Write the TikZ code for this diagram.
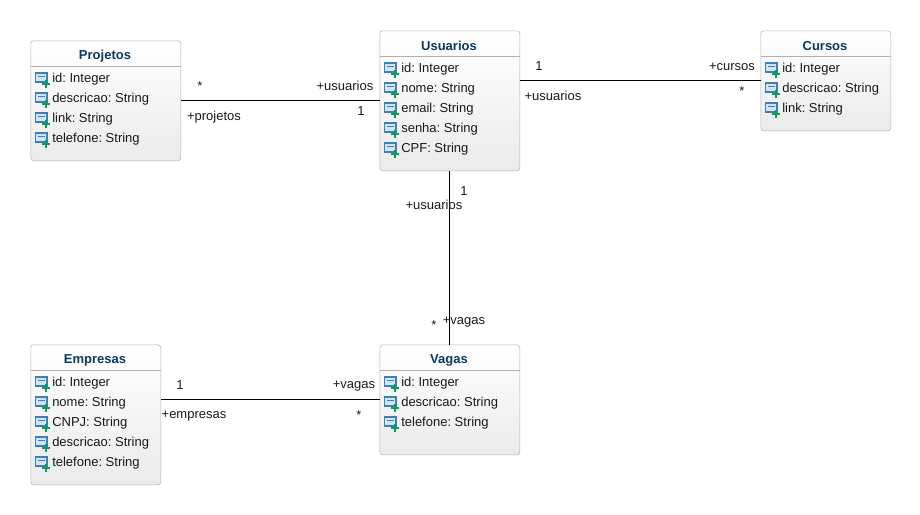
\documentclass[tikz,border=0pt]{standalone}
\usepackage{fontspec}
\setmainfont{Liberation Sans}
\definecolor{titleblue}{HTML}{0B3A5E}
\definecolor{boxedge}{HTML}{B0B0B0}
\definecolor{iconblue}{HTML}{3F7FB5}
\definecolor{iconfill}{HTML}{D3E5F5}
\definecolor{icongreen}{HTML}{0E9A5A}
\tikzset{
	classbox/.style={draw=boxedge, rounded corners=2.2pt, top color=white, bottom color=black!8, anchor=north west, inner sep=0pt},
	classtitle/.style={font=\fontsize{9.75}{12}\selectfont\bfseries\frenchspacing, text=titleblue, inner sep=0pt},
	attr/.style={font=\fontsize{9.75}{12}\selectfont\frenchspacing, text=black!90, anchor=base west, inner sep=0pt},
	lbl/.style={font=\fontsize{9.75}{12}\selectfont, text=black!90, inner sep=0pt},
	assoc/.style={draw=black, line width=.75pt}
}
% nombre, izquierda, arriba, ancho, alto, titulo, atributos
\newcommand{\umlclass}[7]{
	\node[classbox, minimum width=#4*.75pt, minimum height=#5*.75pt] (#1) at (#2, #3) {};
	\node[classtitle] (#1-title) at (#2 + #4/2 - .5, #3 + 15.5) {#6};
	\draw[boxedge, line width=.6pt] (#2, #3 + 26) -- (#2 + #4, #3 + 26);
	\foreach \attrib [count=\i] in {#7}{
		\pgfmathsetmacro{\rowy}{#3 + 17 + 20*\i}
		\draw[iconblue, fill=iconfill, line width=.9pt] (#2 + 5, \rowy - 4.5) rectangle (#2 + 16.5, \rowy + 4.5);
		\draw[iconblue, line width=.9pt] (#2 + 7.5, \rowy - 1) -- (#2 + 14, \rowy - 1);
		\draw[icongreen, line width=1.6pt] (#2 + 11.5, \rowy + 6.5) -- (#2 + 19.5, \rowy + 6.5);
		\draw[icongreen, line width=1.6pt] (#2 + 15.5, \rowy + 2.5) -- (#2 + 15.5, \rowy + 10.5);
		\node[attr] (#1-\i) at (#2 + 21.5, \rowy + 4.5) {\attrib};
	}
}

\begin{document}
\begin{tikzpicture}[x=.75pt, y=-.75pt]
	\useasboundingbox (0, 0) rectangle (920, 514);

	\umlclass{projetos}{30.5}{40.5}{150}{120}{Projetos}{id: Integer, descricao: String, link: String, telefone: String}
	\umlclass{usuarios}{379.5}{30.5}{140}{140}{Usuarios}{id: Integer, nome: String, email: String, senha: String, CPF: String}
	\umlclass{cursos}{760.5}{30.5}{130}{100}{Cursos}{id: Integer, descricao: String, link: String}
	\umlclass{empresas}{30.5}{344.5}{130}{140}{Empresas}{id: Integer, nome: String, CNPJ: String, descricao: String, telefone: String}
	\umlclass{vagas}{379.5}{344.5}{140}{110}{Vagas}{id: Integer, descricao: String, telefone: String}

	% Asociaciones
	\draw[assoc] (projetos) -- (usuarios);
	\draw[assoc] (usuarios.east |- cursos.west) -- (cursos.west);
	\draw[assoc] (usuarios) -- (vagas);
	\draw[assoc] (empresas.east |- vagas.west) -- (vagas.west);

	% Projetos - Usuarios
	\node[lbl] (pu-a) at (200, 86) {*};
	\node[lbl] (pu-b) at (345, 86) {+usuarios};
	\node[lbl] (pu-c) at (361, 111) {1};
	\node[lbl] (pu-d) at (214, 117) {+projetos};
	% Usuarios - Cursos
	\node[lbl] (uc-a) at (539, 66) {1};
	\node[lbl] (uc-b) at (553, 96) {+usuarios};
	\node[lbl] (uc-c) at (732, 67) {+cursos};
	\node[lbl] (uc-d) at (742, 91) {*};
	% Usuarios - Vagas
	\node[lbl] (uv-a) at (464, 191) {1};
	\node[lbl] (uv-b) at (434, 205) {+usuarios};
	\node[lbl] (uv-c) at (434, 325) {*};
	\node[lbl] (uv-d) at (464, 322) {+vagas};
	% Empresas - Vagas
	\node[lbl] (ev-a) at (180, 385) {1};
	\node[lbl] (ev-b) at (194, 416) {+empresas};
	\node[lbl] (ev-c) at (354, 386) {+vagas};
	\node[lbl] (ev-d) at (359, 415) {*};
\end{tikzpicture}
\end{document}
